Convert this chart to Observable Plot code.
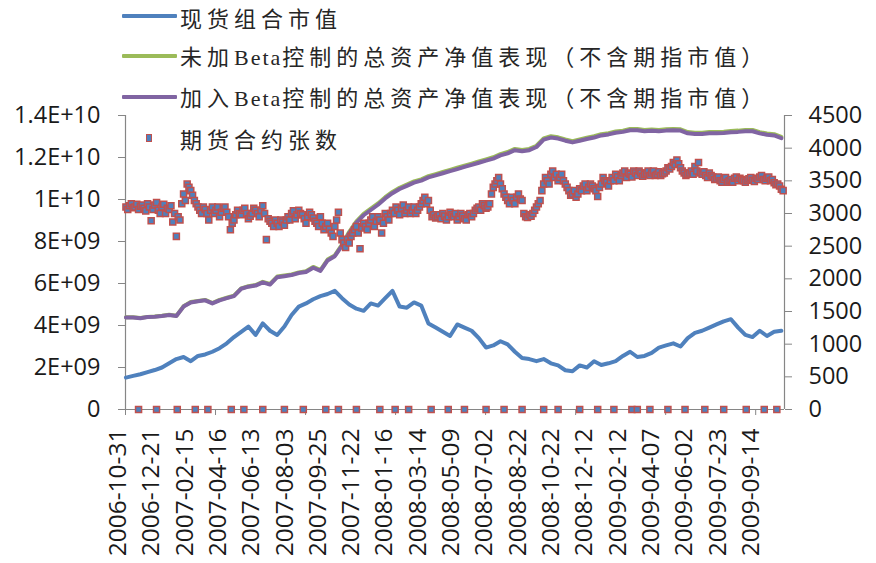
<!DOCTYPE html>
<html>
<head>
<meta charset="utf-8">
<script src="https://cdn.jsdelivr.net/npm/d3@7"></script>
<script src="https://cdn.jsdelivr.net/npm/@observablehq/plot@0.6"></script>
<style>
  html, body { margin: 0; padding: 0; background: #fff; }
  #wrap { position: relative; width: 876px; height: 563px; overflow: hidden; }
  .lg-line { position: absolute; left: 122px; width: 55px; height: 4px; border-radius: 1px; }
  .lg-text { position: absolute; left: 180px; height: 24px; line-height: 24px; font-size: 22px; letter-spacing: 5px;
             font-family: "Liberation Serif", "Noto Sans CJK SC", serif; color: #262626; white-space: nowrap; }
  .lg-text .lat { letter-spacing: 2px; }
  .lg-mark { position: absolute; left: 146px; top: 134px; width: 4px; height: 6px; background: #4F81BD; border: 1.5px solid #C0504D; }
</style>
</head>
<body>
<div id="wrap"></div>
<script>
// ---- data ----
const N = 732;              // trading days on the category axis
const lineStep = 8;         // line samples every 8 trading days
const futStep = 4;          // contract-count samples every 4 trading days
const futOffset = 2;        // second sample set, shifted by 2 days
const labelStep = 37;       // category label interval
const tickStep = 100;       // tick-mark interval

const seriesNames = ["现货组合市值", "未加Beta控制的总资产净值表现（不含期指市值）", "加入Beta控制的总资产净值表现（不含期指市值）", "期货合约张数"];

const dateLabels = ["2006-10-31","2006-12-21","2007-02-15","2007-04-16","2007-06-13","2007-08-03","2007-09-25","2007-11-22",
  "2008-01-16","2008-03-14","2008-05-09","2008-07-02","2008-08-22","2008-10-22","2008-12-12","2009-02-12",
  "2009-04-07","2009-06-02","2009-07-23","2009-09-14"];

const leftTicks = [0, 2e9, 4e9, 6e9, 8e9, 1e10, 1.2e10, 1.4e10];
const leftLabels = ["0","2E+09","4E+09","6E+09","8E+09","1E+10","1.2E+10","1.4E+10"];
const rightTicks = [0,500,1000,1500,2000,2500,3000,3500,4000,4500];

// 现货组合市值 (units of 1E9)
const spotValue = [1.52,1.6,1.68,1.78,1.88,2.0,2.2,2.4,2.5,2.3,
  2.55,2.62,2.75,2.92,3.15,3.45,3.7,3.95,3.55,4.1,
  3.75,3.55,3.95,4.5,4.9,5.05,5.25,5.4,5.5,5.65,
  5.3,5.0,4.8,4.7,5.05,4.95,5.3,5.65,4.9,4.85,
  5.1,4.95,4.1,3.9,3.7,3.5,4.05,3.9,3.75,3.4,
  2.95,3.05,3.25,3.1,2.75,2.45,2.4,2.3,2.4,2.2,
  2.1,1.87,1.82,2.1,2.0,2.3,2.12,2.2,2.3,2.55,
  2.75,2.5,2.55,2.7,2.95,3.05,3.15,3.0,3.4,3.65,
  3.75,3.9,4.05,4.2,4.3,3.9,3.55,3.45,3.75,3.5,
  3.7,3.75];

// 未加Beta控制的总资产净值表现 (1E9)
const navNoBeta = [4.39,4.39,4.36,4.41,4.43,4.46,4.51,4.46,4.92,5.12,
  5.17,5.22,5.07,5.22,5.32,5.42,5.77,5.87,5.93,6.08,
  5.98,6.33,6.38,6.43,6.53,6.58,6.79,6.64,7.14,7.34,
  7.85,8.46,8.96,9.31,9.56,9.81,10.11,10.36,10.56,10.71,
  10.86,10.96,11.11,11.21,11.31,11.41,11.51,11.61,11.71,11.81,
  11.91,12.01,12.16,12.26,12.41,12.36,12.41,12.56,12.91,13.01,
  12.96,12.86,12.78,12.86,12.94,13.01,13.11,13.16,13.24,13.28,
  13.36,13.36,13.31,13.33,13.31,13.34,13.36,13.34,13.21,13.18,
  13.18,13.21,13.21,13.23,13.26,13.28,13.31,13.31,13.21,13.14,
  13.11,12.98];

// 加入Beta控制的总资产净值表现 (1E9)
const navBeta = [4.38,4.38,4.35,4.4,4.42,4.45,4.5,4.45,4.9,5.1,
  5.15,5.2,5.05,5.2,5.3,5.4,5.75,5.85,5.9,6.05,
  5.95,6.3,6.35,6.4,6.5,6.55,6.75,6.6,7.1,7.3,
  7.8,8.4,8.9,9.25,9.5,9.75,10.05,10.3,10.5,10.65,
  10.8,10.9,11.05,11.15,11.25,11.35,11.45,11.55,11.65,11.75,
  11.85,11.95,12.1,12.2,12.35,12.3,12.35,12.5,12.85,12.95,
  12.9,12.8,12.72,12.8,12.88,12.95,13.05,13.1,13.18,13.22,
  13.3,13.3,13.25,13.27,13.25,13.28,13.3,13.28,13.15,13.12,
  13.12,13.15,13.15,13.17,13.2,13.22,13.25,13.25,13.15,13.08,
  13.05,12.92];

// 期货合约张数 (right axis), days 0,4,8,...
const futContracts = [3100,3120,3090,3140,3110,3080,3150,2890,3130,3050,
  3100,3000,3060,2870,2650,2900,3300,3450,3350,3200,
  3100,3000,3060,2900,3100,3050,2950,3080,3020,2750,
  2900,3050,2980,3080,2920,3000,3050,2950,3120,2600,
  2880,2800,2850,2900,2820,2950,3000,2920,3050,2980,
  2850,3020,2930,2850,2950,2750,2850,2700,2800,3020,
  2600,2480,2550,2700,2800,2460,2850,2750,2900,2800,
  2950,2700,3000,2900,3050,3100,2980,3130,3050,3000,
  3100,3050,3150,3250,3200,2950,2930,2980,3000,2900,
  3020,2950,2900,3000,2920,2980,2950,3050,3100,3150,
  3080,3150,3400,3500,3450,3300,3200,3250,3150,3300,
  3200,2950,2980,3000,3100,3200,3450,3500,3600,3550,
  3500,3600,3450,3350,3300,3250,3380,3420,3350,3450,
  3380,3260,3450,3500,3420,3550,3600,3500,3620,3550,
  3600,3650,3580,3620,3600,3650,3620,3580,3640,3610,
  3650,3680,3780,3820,3700,3620,3600,3650,3720,3780,
  3600,3580,3620,3560,3530,3500,3520,3480,3520,3540,
  3500,3520,3480,3530,3510,3540,3560,3520,3540,3500,
  3470,3450,3370];

// 期货合约张数, days 2,6,10,...
const futContractsMid = [3060,3150,3100,3060,3130,3040,3100,3060,3170,3000,
  3140,3080,3120,3000,2950,3150,3200,3400,3280,3150,
  3050,3100,3000,3050,3000,3100,3020,3100,2950,2850,
  2980,3000,3050,3000,2960,3080,3000,3050,3000,2920,
  2850,2900,2800,2870,2900,2900,3040,2980,3000,2920,
  2950,2980,2880,2800,2850,2800,2760,2650,2900,2700,
  2550,2600,2650,2750,2700,2780,2800,2850,2950,2880,
  2900,2850,2950,3000,3000,3050,3080,3000,3100,3050,
  3000,3100,3200,3150,3050,2980,2950,2920,2960,2950,
  2980,3000,2950,2960,2900,3000,3000,3080,3050,3120,
  3100,3300,3450,3550,3380,3250,3150,3200,3250,3220,
  3000,2940,2960,3050,3150,3350,3550,3450,3650,3600,
  3550,3500,3400,3280,3350,3300,3350,3450,3400,3420,
  3350,3400,3550,3480,3500,3500,3560,3580,3650,3620,
  3560,3620,3650,3570,3620,3580,3650,3600,3580,3620,
  3700,3720,3750,3760,3650,3580,3620,3600,3650,3620,
  3640,3550,3580,3520,3560,3480,3550,3500,3480,3560,
  3540,3500,3510,3550,3490,3520,3580,3500,3560,3520,
  3440,3420,3350];

// trading days with 0 contracts (roll days)
const rollDays = [14,34,57,77,91,117,131,152,176,197,222,236,256,282,299,314,339,358,376,400,
  420,440,464,480,504,524,542,562,568,582,602,621,643,664,689,709,723];

const colors = {spot: "#4F81BD", noBeta: "#9BBB59", beta: "#8064A2", futFill: "#4F81BD", futStroke: "#C0504D"};
const axisGray = "#868686";
const textColor = "#1a1a1a";

// ---- chart ----
const ratio = 1.4e10 / 4500;   // right-axis units onto left-axis scale
const xTickPos = d3.range(0, N, tickStep).map(i => i - 0.5);
const futAll = futContracts.map((v, k) => ({i: k * futStep, v}))
  .concat(futContractsMid.map((v, k) => ({i: k * futStep + futOffset, v})))
  .sort((a, b) => a.i - b.i);

const dotOpts = {symbol: "square", r: 3.4, fill: colors.futFill, stroke: colors.futStroke, strokeWidth: 1.5};

const chart = Plot.plot({
  width: 876,
  height: 563,
  marginLeft: 125,
  marginRight: 92,
  marginTop: 115,
  marginBottom: 154,
  style: {fontFamily: "'Open Sans', sans-serif", fontSize: "23px", background: "#fff", overflow: "visible"},
  x: {domain: [-0.5, N - 0.5], axis: null},
  y: {domain: [0, 1.4e10], axis: null},
  marks: [
    Plot.axisY(leftTicks, {anchor: "left", tickSize: 7, tickPadding: 18, label: null,
      tickFormat: d => leftLabels[leftTicks.indexOf(d)], stroke: axisGray, fill: textColor, fontSize: 23.5}),
    Plot.axisY(rightTicks.map(n => n * ratio), {anchor: "right", tickSize: 7, tickPadding: 17, label: null,
      tickFormat: d => String(Math.round(d / ratio)), stroke: axisGray, fill: textColor, fontSize: 23.5}),
    Plot.axisX(xTickPos, {tickSize: 6, tickFormat: () => "", label: null, stroke: axisGray}),
    Plot.text(dateLabels, {x: (d, i) => i * labelStep, frameAnchor: "bottom", rotate: -90, textAnchor: "end",
      dy: 19, fontSize: 24.5, fill: textColor}),
    Plot.ruleX([-0.5, N - 0.5], {stroke: axisGray, strokeWidth: 1.2}),
    Plot.ruleY([0], {stroke: axisGray, strokeWidth: 1.2}),
    Plot.line(spotValue, {x: (d, i) => i * lineStep, y: d => d * 1e9, stroke: colors.spot, strokeWidth: 4, strokeLinejoin: "round"}),
    Plot.line(navNoBeta, {x: (d, i) => i * lineStep, y: d => d * 1e9, stroke: colors.noBeta, strokeWidth: 4, strokeLinejoin: "round"}),
    Plot.line(navBeta, {x: (d, i) => i * lineStep, y: d => d * 1e9, stroke: colors.beta, strokeWidth: 4, strokeLinejoin: "round"}),
    Plot.dot(futAll, {x: "i", y: d => d.v * ratio, ...dotOpts}),
    Plot.dot(rollDays, {x: d => d, y: () => 0, ...dotOpts})
  ]
});

const wrap = document.getElementById("wrap");
wrap.appendChild(chart);

// ---- legend (overlaid at the top, like the original) ----
const legendRows = [
  {name: seriesNames[0], color: colors.spot, lineY: 16, textY: 20},
  {name: seriesNames[1], color: colors.noBeta, lineY: 56, textY: 58},
  {name: seriesNames[2], color: colors.beta, lineY: 97, textY: 99},
  {name: seriesNames[3], color: null, lineY: 138, textY: 141}
];
legendRows.forEach(r => {
  if (r.color) {
    const l = document.createElement("div");
    l.className = "lg-line";
    l.style.top = (r.lineY - 2) + "px";
    l.style.background = r.color;
    wrap.appendChild(l);
  } else {
    const m = document.createElement("div");
    m.className = "lg-mark";
    wrap.appendChild(m);
  }
  const t = document.createElement("div");
  t.className = "lg-text";
  t.style.top = (r.textY - 12) + "px";
  // keep the Latin run tighter, as in the original
  r.name.split(/(Beta)/).forEach(part => {
    if (!part) return;
    if (part === "Beta") {
      const s = document.createElement("span");
      s.className = "lat";
      s.textContent = part;
      t.appendChild(s);
    } else {
      t.appendChild(document.createTextNode(part));
    }
  });
  wrap.appendChild(t);
});
</script>
</body>
</html>
